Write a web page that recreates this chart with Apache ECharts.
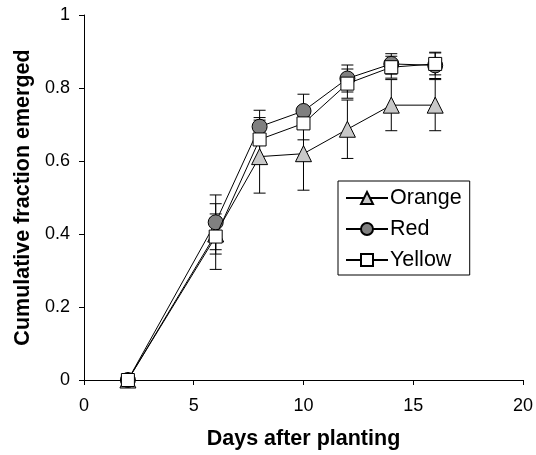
<!DOCTYPE html>
<html>
<head>
<meta charset="utf-8">
<script src="https://cdn.jsdelivr.net/npm/echarts@6/dist/echarts.min.js"></script>
<style>
  html, body { margin: 0; padding: 0; background: #fff; }
  #chart { width: 536px; height: 455px; }
</style>
</head>
<body>
<div id="chart"></div>
<script>
// days after planting
var days = [2, 6, 8, 10, 12, 14, 16];
// mean cumulative fraction emerged, with error half-widths
var orange = [0, 0.40, 0.612, 0.620, 0.687, 0.753, 0.753];
var orangeErr = [0, 0.055, 0.10, 0.10, 0.08, 0.07, 0.07];
var red = [0, 0.432, 0.694, 0.737, 0.826, 0.866, 0.862];
var redErr = [0, 0.075, 0.045, 0.046, 0.037, 0.028, 0.036];
var yellow = [0, 0.393, 0.659, 0.703, 0.812, 0.857, 0.866];
var yellowErr = [0, 0.09, 0.06, 0.045, 0.04, 0.03, 0.03];
var xTicks = [0, 5, 10, 15, 20];
var yTicks = [0, 0.2, 0.4, 0.6, 0.8, 1];

var font = 'Liberation Sans, Arial, sans-serif';

function pairs(vals) {
  return days.map(function (d, i) { return [d, vals[i]]; });
}
function errData(vals, errs) {
  return days.map(function (d, i) { return [d, vals[i] - errs[i], vals[i] + errs[i]]; });
}
// vertical error bar with caps, positioned by the axis scales
function errorBar(params, api) {
  var x = api.value(0);
  var lo = api.coord([x, api.value(1)]);
  var hi = api.coord([x, api.value(2)]);
  if (lo[1] === hi[1]) return null;
  var w = 6;
  var st = { stroke: '#000', lineWidth: 1 };
  return {
    type: 'group',
    children: [
      { type: 'line', shape: { x1: lo[0], y1: lo[1], x2: hi[0], y2: hi[1] }, style: st },
      { type: 'line', shape: { x1: lo[0] - w, y1: lo[1], x2: lo[0] + w, y2: lo[1] }, style: st },
      { type: 'line', shape: { x1: hi[0] - w, y1: hi[1], x2: hi[0] + w, y2: hi[1] }, style: st }
    ]
  };
}

function lineSeries(name, vals, symbol, size, fill, z) {
  return {
    name: name,
    type: 'line',
    data: pairs(vals),
    symbol: symbol,
    symbolSize: size,
    showAllSymbol: true,
    z: z,
    lineStyle: { color: '#000', width: 1 },
    itemStyle: { color: fill, borderColor: '#000', borderWidth: 1, opacity: 1 },
    emphasis: { disabled: true },
    animation: false
  };
}
function barSeries(vals, errs) {
  return {
    type: 'custom',
    renderItem: errorBar,
    data: errData(vals, errs),
    encode: { x: 0, y: [1, 2] },
    z: 1,
    silent: true,
    animation: false
  };
}

var chart = echarts.init(document.getElementById('chart'));
chart.setOption({
  backgroundColor: '#fff',
  animation: false,
  grid: { left: 84, right: 11, top: 15, bottom: 75 },
  legend: {
    left: 338,
    top: 181,
    orient: 'vertical',
    backgroundColor: '#fff',
    borderColor: '#000',
    borderWidth: 1,
    padding: [6, 8, 4, 7],
    itemWidth: 42,
    itemHeight: 15,
    itemGap: 9,
    selectedMode: false,
    textStyle: { fontFamily: font, fontSize: 21.5, color: '#000', lineHeight: 20, padding: [0, 0, 0, -3] },
    data: ['Orange', 'Red', 'Yellow']
  },
  xAxis: {
    type: 'value',
    min: xTicks[0],
    max: xTicks[xTicks.length - 1],
    interval: 5,
    name: 'Days after planting',
    nameLocation: 'middle',
    nameGap: 48,
    nameTextStyle: { fontFamily: font, fontSize: 21.5, fontWeight: 'bold', color: '#000' },
    axisLine: { lineStyle: { color: '#000', width: 1 } },
    axisTick: { inside: false, length: 5, lineStyle: { color: '#000' } },
    axisLabel: { fontFamily: font, fontSize: 18, color: '#000', margin: 17 },
    splitLine: { show: false }
  },
  yAxis: {
    type: 'value',
    min: yTicks[0],
    max: yTicks[yTicks.length - 1],
    interval: 0.2,
    name: 'Cumulative fraction emerged',
    nameLocation: 'middle',
    nameGap: 49,
    nameTextStyle: { fontFamily: font, fontSize: 21.5, fontWeight: 'bold', color: '#000' },
    axisLine: { show: true, lineStyle: { color: '#000', width: 1 } },
    axisTick: { show: true, inside: false, length: 5, lineStyle: { color: '#000' } },
    axisLabel: { fontFamily: font, fontSize: 18, color: '#000', margin: 14 },
    splitLine: { show: false }
  },
  series: [
    barSeries(orange, orangeErr),
    barSeries(red, redErr),
    barSeries(yellow, yellowErr),
    lineSeries('Orange', orange, 'triangle', 16, '#c8c8c8', 3),
    lineSeries('Red', red, 'circle', 15, '#808080', 4),
    lineSeries('Yellow', yellow, 'rect', 13, '#ffffff', 5)
  ]
});
</script>
</body>
</html>
